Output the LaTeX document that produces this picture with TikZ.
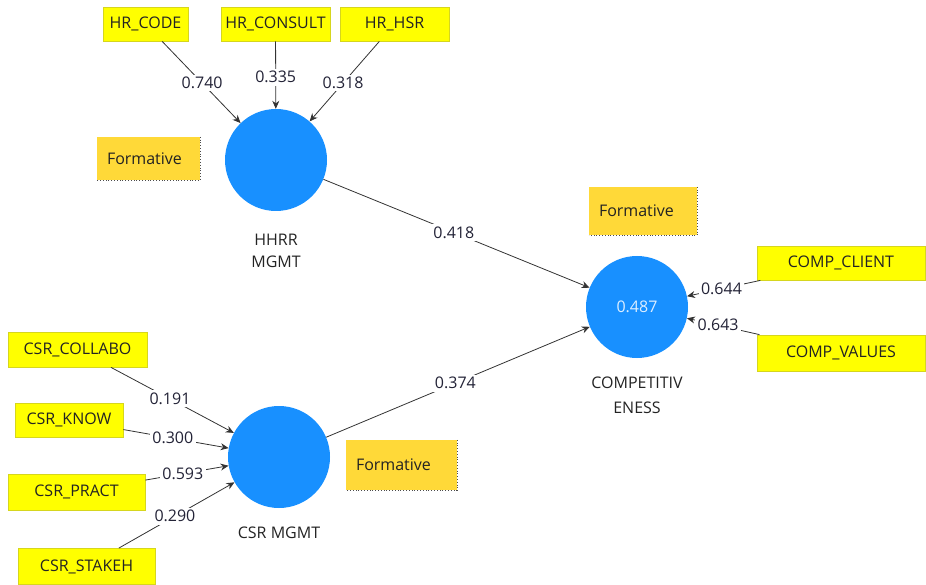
\documentclass[tikz,border=0pt]{standalone}
\usepackage{fontspec}
\setmainfont{Open Sans}
\usetikzlibrary{arrows.meta}
\definecolor{indf}{RGB}{255,255,0}
\definecolor{indb}{RGB}{214,214,30}
\definecolor{formf}{RGB}{255,217,56}
\definecolor{lvf}{RGB}{24,144,255}
\definecolor{txt}{RGB}{35,35,35}
\definecolor{lbltxt}{RGB}{35,35,55}
\begin{document}
\begin{tikzpicture}[x=1pt,y=-1pt,
  font=\fontsize{16}{18}\selectfont, text=txt,
  ind/.style={draw=indb, fill=indf, line width=0.8pt, minimum height=34pt, inner sep=0pt},
  formbox/.style={fill=formf, inner xsep=10pt, inner ysep=0pt, align=left},
  lvc/.style={circle, fill=lvf, minimum size=102pt, inner sep=0pt, text=white!85!lvf},
  lbl/.style={fill=white, inner sep=2.5pt, text=lbltxt},
  conn/.style={draw=black!80, line width=0.8pt, -{Stealth[length=8pt,width=7pt]}},
  dotb/.style={draw=black!70, dotted, line width=0.8pt}]
\useasboundingbox (0,0) rectangle (926,585);

% latent variables
\node[lvc] (hhrr) at (276,160) {};
\node[lvc] (comp) at (637,307) {0.487};
\node[lvc] (csr) at (279,457) {};

\node[align=center, font=\fontsize{16}{22}\selectfont] (hhrrlab) at (276,251) {HHRR\\MGMT};
\node[align=center, font=\fontsize{16}{25}\selectfont] (complab) at (637,395) {COMPETITIV\\ENESS};
\node (csrlab) at (279,533) {CSR MGMT};

% formative boxes
\node[formbox, text width=83pt, minimum height=43pt] (f1) at (148.5,158.5) {Formative};
\node[formbox, text width=88pt, minimum height=48pt] (f2) at (643,211) {Formative};
\node[formbox, text width=91pt, minimum height=50pt] (f3) at (401.5,465) {Formative};
\draw[dotb] (f1.north east) -- (f1.south east) -- (f1.south west);
\draw[dotb] (f2.north east) -- (f2.south east) -- (f2.south west);
\draw[dotb] (f3.north east) -- (f3.south east) -- (f3.south west);

% indicators
\node[ind, minimum width=85pt] (hrcode) at (145.5,24) {HR\_CODE};
\node[ind, minimum width=109pt] (hrcons) at (275.5,24) {HR\_CONSULT};
\node[ind, minimum width=109pt] (hrhsr) at (394.5,24) {HR\_HSR};

\node[ind, minimum width=168pt] (cclient) at (841,263) {COMP\_CLIENT};
\node[ind, minimum width=168pt, minimum height=36pt] (cvalues) at (841,353) {COMP\_VALUES};

\node[ind, minimum width=139pt, minimum height=35pt] (ccoll) at (77.5,349.5) {CSR\_COLLABO};
\node[ind, minimum width=108pt] (cknow) at (69,420) {CSR\_KNOW};
\node[ind, minimum width=137pt, minimum height=36pt] (cpract) at (76.5,492) {CSR\_PRACT};
\node[ind, minimum width=137pt, minimum height=36pt] (cstake) at (86.5,566.5) {CSR\_STAKEH};

% connectors
\draw[conn] (hrcode) -- node[lbl, pos=0.51] (l1) {0.740} (hhrr);
\draw[conn] (hrcons) -- node[lbl, pos=0.53] (l2) {0.335} (hhrr);
\draw[conn] (hrhsr) -- node[lbl, pos=0.52] (l3) {0.318} (hhrr);

\draw[conn] (hhrr) -- node[lbl, pos=0.49] (l4) {0.418} (comp);
\draw[conn] (csr) -- node[lbl, pos=0.49] (l5) {0.374} (comp);

\draw[conn] (cclient) -- node[lbl, pos=0.53] (l6) {0.644} (comp);
\draw[conn] (cvalues) -- node[lbl, pos=0.57] (l7) {0.643} (comp);

\draw[conn] (ccoll) -- node[lbl, pos=0.48] (l8) {0.191} (csr);
\draw[conn] (cknow) -- node[lbl, pos=0.47] (l9) {0.300} (csr);
\draw[conn] (cpract) -- node[lbl, pos=0.45] (l10) {0.593} (csr);
\draw[conn] (cstake) -- node[lbl, pos=0.485] (l11) {0.290} (csr);
\end{tikzpicture}
\end{document}
